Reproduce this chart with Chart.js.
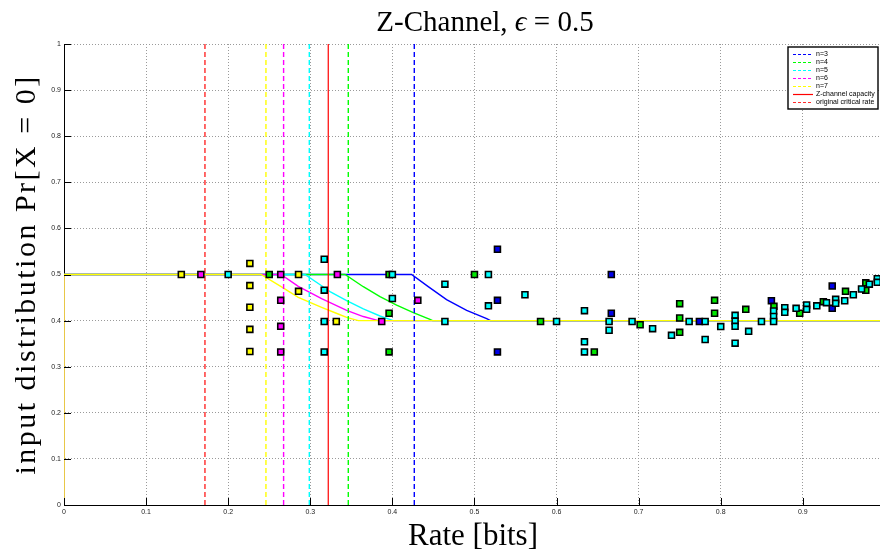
<!DOCTYPE html>
<html>
<head>
<meta charset="utf-8">
<title>Z-Channel</title>
<script src="https://cdn.jsdelivr.net/npm/chart.js@4/dist/chart.umd.min.js"></script>
<style>
  html, body { margin: 0; padding: 0; background: #fff; overflow: hidden; }
</style>
</head>
<body>
<canvas id="zChart" width="880" height="555"></canvas>
<script>
// ticks
var xTicks = [0, 0.1, 0.2, 0.3, 0.4, 0.5, 0.6, 0.7, 0.8, 0.9];
var yTicks = [0, 0.1, 0.2, 0.3, 0.4, 0.5, 0.6, 0.7, 0.8, 0.9, 1];

// legend names, one per block length n
var seriesNames = ['n=3', 'n=4', 'n=5', 'n=6', 'n=7'];

// critical rates for n = 3..7 (dashed vertical lines)
var critRate = [0.4267, 0.3463, 0.2988, 0.2675, 0.246];
var capacity = 0.3219;
var origCritRate = 0.1717;

// optimal input distribution curves
var curveRate3 = [0, 0, 0.4234, 0.4437, 0.466, 0.4905, 0.5149, 0.5195, 1];
var curveProb3 = [0, 0.5, 0.5, 0.4738, 0.4454, 0.4223, 0.4041, 0.4, 0.4];
var curveRate4 = [0, 0, 0.3423, 0.3646, 0.3849, 0.4052, 0.4255, 0.4458, 0.449, 1];
var curveProb4 = [0, 0.5, 0.5, 0.4735, 0.4518, 0.4338, 0.4172, 0.4025, 0.4, 0.4];
var curveRate5 = [0, 0, 0.2935, 0.3138, 0.324, 0.3443, 0.3646, 0.3849, 0.401, 1];
var curveProb5 = [0, 0.5, 0.5, 0.4755, 0.4627, 0.4432, 0.4252, 0.41, 0.4, 0.4];
var curveRate6 = [0, 0, 0.2643, 0.2854, 0.3138, 0.3443, 0.3646, 0.383, 1];
var curveProb6 = [0, 0.5, 0.5, 0.4744, 0.4475, 0.4222, 0.4088, 0.4, 0.4];
var curveRate7 = [0, 0, 0.240, 0.265, 0.2854, 0.3138, 0.334, 0.3443, 0.3585, 1];
var curveProb7 = [0, 0.5, 0.5, 0.473, 0.4506, 0.4289, 0.4143, 0.407, 0.4, 0.4];

// codes found by search (squares)
var ptsRate3 = [0.528, 0.528, 0.528, 0.6667, 0.6667, 0.774, 0.8617, 0.9358, 0.9358];
var ptsProb3 = [0.5547, 0.444, 0.332, 0.5, 0.416, 0.398, 0.443, 0.475, 0.4266];

var ptsRate4 = [0.25, 0.396, 0.396, 0.396, 0.5, 0.5805, 0.646, 0.7018, 0.75, 0.75, 0.75,
                0.7925, 0.7925, 0.8305, 0.8648, 0.8962, 0.925, 0.952, 0.9767, 0.9767];
var ptsProb4 = [0.5, 0.5, 0.416, 0.332, 0.5, 0.398, 0.332, 0.391, 0.4367, 0.4056, 0.3746,
                0.444, 0.416, 0.4245, 0.431, 0.416, 0.441, 0.4635, 0.482, 0.4657];

var ptsRate5 = [0.2, 0.317, 0.317, 0.317, 0.317, 0.4, 0.4, 0.464, 0.464, 0.517, 0.517,
                0.5615, 0.6, 0.634, 0.634, 0.634, 0.664, 0.664, 0.692, 0.717, 0.74,
                0.7615, 0.781, 0.781, 0.8, 0.8175, 0.8175, 0.8175, 0.8175, 0.834, 0.8496,
                0.8644, 0.8644, 0.8644, 0.878, 0.878, 0.8918, 0.9046, 0.9046, 0.917, 0.9288,
                0.94, 0.94, 0.951, 0.9615, 0.9715, 0.981, 0.9907, 0.9907];
var ptsProb5 = [0.5, 0.533, 0.466, 0.398, 0.332, 0.5, 0.448, 0.479, 0.398, 0.5, 0.432,
                0.456, 0.398, 0.4215, 0.354, 0.332, 0.398, 0.379, 0.398, 0.3825, 0.368,
                0.398, 0.398, 0.359, 0.387, 0.4115, 0.399, 0.3876, 0.351, 0.3768, 0.398,
                0.421, 0.409, 0.398, 0.428, 0.418, 0.4266, 0.434, 0.4245, 0.432, 0.4389,
                0.446, 0.4375, 0.443, 0.456, 0.4685, 0.479, 0.491, 0.483];

var ptsRate6 = [0.1667, 0.264, 0.264, 0.264, 0.264, 0.333, 0.387, 0.431];
var ptsProb6 = [0.5, 0.5, 0.444, 0.3876, 0.332, 0.5, 0.398, 0.444];

var ptsRate7 = [0.1429, 0.2264, 0.2264, 0.2264, 0.2264, 0.2264, 0.2857, 0.2857, 0.3317];
var ptsProb7 = [0.5, 0.524, 0.476, 0.429, 0.381, 0.333, 0.5, 0.4635, 0.398];

// styles
var lineColors = ['#0000ff', '#00ff00', '#00ffff', '#ff00ff', '#ffff00'];
var fillColors = ['#0000e8', '#00e600', '#00ffff', '#ff00ff', '#ffff00'];
var serif = '"Liberation Serif", "Times New Roman", serif';
var sans = '"Liberation Sans", Arial, sans-serif';

function pairs(xs, ys) {
    return xs.map(function (x, i) { return { x: x, y: ys[i] }; });
}

var curveRates = [curveRate3, curveRate4, curveRate5, curveRate6, curveRate7];
var curveProbs = [curveProb3, curveProb4, curveProb5, curveProb6, curveProb7];
var ptsRates = [ptsRate3, ptsRate4, ptsRate5, ptsRate6, ptsRate7];
var ptsProbs = [ptsProb3, ptsProb4, ptsProb5, ptsProb6, ptsProb7];

var datasets = [];

// dashed critical rate lines (these go in the legend)
seriesNames.forEach(function (name, i) {
    datasets.push({
        label: name,
        data: pairs([critRate[i], critRate[i]], [0, 1]),
        showLine: true, pointRadius: 0,
        borderColor: lineColors[i], borderWidth: 1.4, borderDash: [5, 3],
        order: 10 + i, inLegend: true
    });
});
datasets.push({
    label: 'Z-channel capacity',
    data: pairs([capacity, capacity], [0, 1]),
    showLine: true, pointRadius: 0,
    borderColor: '#ff0000', borderWidth: 1.2,
    order: 15, inLegend: true
});
datasets.push({
    label: 'original critical rate',
    data: pairs([origCritRate, origCritRate], [0, 1]),
    showLine: true, pointRadius: 0,
    borderColor: '#ff2a2a', borderWidth: 1.4, borderDash: [5, 3],
    order: 16, inLegend: true
});

// curves, n=7 drawn on top
seriesNames.forEach(function (name, i) {
    datasets.push({
        label: name + ' curve',
        data: pairs(curveRates[i], curveProbs[i]),
        showLine: true, pointRadius: 0, tension: 0,
        borderColor: lineColors[i], borderWidth: 1.4,
        order: 24 - i
    });
});

// squares
seriesNames.forEach(function (name, i) {
    datasets.push({
        label: name + ' codes',
        data: pairs(ptsRates[i], ptsProbs[i]),
        showLine: false,
        pointStyle: 'rect', pointRadius: 4.2,
        backgroundColor: fillColors[i], borderColor: '#000', borderWidth: 1.6,
        order: 5 - i
    });
});

// inward tick marks, like matlab
var innerTicks = {
    id: 'innerTicks',
    afterDraw: function (chart) {
        var ctx = chart.ctx, a = chart.chartArea;
        var xs = chart.scales.x, ys = chart.scales.y;
        ctx.save();
        ctx.strokeStyle = '#000';
        ctx.lineWidth = 1;
        ctx.beginPath();
        xTicks.forEach(function (v) {
            var px = Math.round(xs.getPixelForValue(v)) + 0.5;
            ctx.moveTo(px, a.bottom);
            ctx.lineTo(px, a.bottom - 7);
        });
        yTicks.forEach(function (v) {
            var py = Math.round(ys.getPixelForValue(v)) + 0.5;
            ctx.moveTo(a.left, py);
            ctx.lineTo(a.left + 7, py);
        });
        ctx.stroke();
        ctx.restore();
    }
};

// title and axis labels (latex look: italic epsilon, wide letters)
var labels = {
    id: 'labels',
    afterDraw: function (chart) {
        var ctx = chart.ctx, a = chart.chartArea;
        ctx.save();
        ctx.fillStyle = '#000';
        ctx.textBaseline = 'alphabetic';

        // title, centred a bit right of the axes like the original
        var parts = [['Z-Channel, ', 'normal'], ['\u03f5', 'italic'], [' = 0.5', 'normal']];
        var total = 0;
        parts.forEach(function (p) {
            ctx.font = p[1] + ' 29px ' + serif;
            p.push(ctx.measureText(p[0]).width);
            total += p[2];
        });
        var tx = (a.left + a.right) / 2 + 13 - total / 2;
        ctx.textAlign = 'left';
        parts.forEach(function (p) {
            ctx.font = p[1] + ' 29px ' + serif;
            ctx.fillText(p[0], tx, 31);
            tx += p[2];
        });

        // x label
        ctx.textAlign = 'center';
        ctx.textBaseline = 'middle';
        ctx.font = '31px ' + serif;
        ctx.fillText('Rate [bits]', (a.left + a.right) / 2 + 1, 537);

        // y label
        ctx.save();
        ctx.translate(27, (a.top + a.bottom) / 2);
        ctx.rotate(-Math.PI / 2);
        ctx.font = '30px ' + serif;
        ctx.letterSpacing = '2.5px';
        ctx.fillText('input distribution Pr[X = 0]', 0, 0);
        ctx.restore();

        ctx.restore();
    }
};

// legend box in the top right corner
var boxLegend = {
    id: 'boxLegend',
    afterDraw: function (chart) {
        var ctx = chart.ctx, a = chart.chartArea;
        var items = chart.data.datasets.filter(function (d) { return d.inLegend; });
        var x0 = a.right - 92, y0 = a.top + 3, w = 90, h = 62;
        ctx.save();
        ctx.fillStyle = '#fff';
        ctx.fillRect(x0, y0, w, h);
        ctx.strokeStyle = '#000';
        ctx.lineWidth = 1.4;
        ctx.strokeRect(x0, y0, w, h);
        ctx.font = '7px ' + sans;
        ctx.textBaseline = 'middle';
        ctx.textAlign = 'left';
        items.forEach(function (d, i) {
            var y = y0 + 7.5 + i * 8;
            ctx.strokeStyle = d.borderColor;
            ctx.lineWidth = 1.2;
            ctx.setLineDash(d.borderDash ? [3, 2] : []);
            ctx.beginPath();
            ctx.moveTo(x0 + 5, y);
            ctx.lineTo(x0 + 25, y);
            ctx.stroke();
            ctx.setLineDash([]);
            ctx.fillStyle = '#000';
            ctx.fillText(d.label, x0 + 28, y);
        });
        ctx.restore();
    }
};

var ctx = document.getElementById('zChart').getContext('2d');
var zChart = new Chart(ctx, {
    type: 'scatter',
    data: { datasets: datasets },
    plugins: [innerTicks, labels, boxLegend],
    options: {
        responsive: false,
        devicePixelRatio: 1,
        animation: false,
        layout: { autoPadding: false, padding: { top: 44, left: 0, right: 0, bottom: 0 } },
        plugins: {
            legend: { display: false },
            tooltip: { enabled: false },
            title: { display: false }
        },
        scales: {
            x: {
                type: 'linear',
                min: 0,
                max: 0.994,
                afterBuildTicks: function (s) { s.ticks = xTicks.map(function (v) { return { value: v }; }); },
                afterFit: function (s) { s.height = 50; s.paddingLeft = 0; s.paddingRight = 0; },
                ticks: {
                    autoSkip: false, maxRotation: 0, padding: 3, color: '#222',
                    font: { family: sans, size: 7 },
                    callback: function (v) { return String(v); }
                },
                grid: { color: '#9a9a9a', drawTicks: false, lineWidth: 1 },
                border: { color: '#000', width: 1, dash: [1, 2] }
            },
            y: {
                type: 'linear',
                min: 0,
                max: 1,
                afterBuildTicks: function (s) { s.ticks = yTicks.map(function (v) { return { value: v }; }); },
                afterFit: function (s) { s.width = 64; s.paddingTop = 0; s.paddingBottom = 0; },
                ticks: {
                    autoSkip: false, padding: 3, color: '#222',
                    font: { family: sans, size: 7 },
                    callback: function (v) { return String(v); }
                },
                grid: { color: '#9a9a9a', drawTicks: false, lineWidth: 1 },
                border: { color: '#000', width: 1, dash: [1, 2] }
            }
        }
    }
});
</script>
</body>
</html>
